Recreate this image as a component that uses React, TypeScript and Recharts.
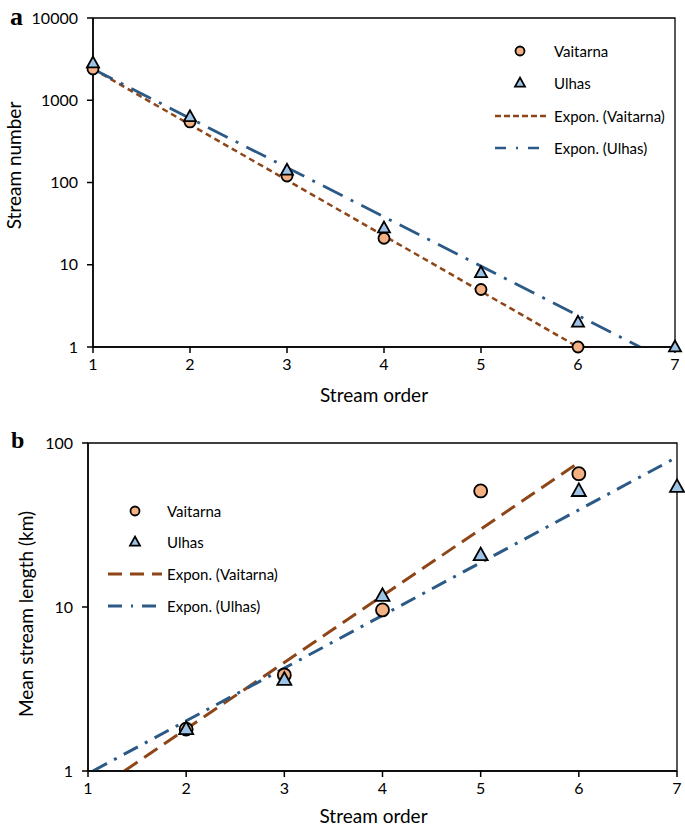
import React from 'react';
import { ComposedChart, Scatter, Line, XAxis, YAxis, ReferenceArea } from 'recharts';

// panel a: stream number per order
const orders = [1, 2, 3, 4, 5, 6, 7];
const vaitarnaNumber = [2400, 545, 120, 21, 5, 1];
const ulhasNumber = [2840, 630, 141, 28, 8, 2, 1];
const vaitarnaNumberTrendX = [1, 6];
const vaitarnaNumberTrendY = [2400, 1];
const ulhasNumberTrendX = [1, 6.64];
const ulhasNumberTrendY = [2400, 1];
const numberTicks = [1, 10, 100, 1000, 10000];

// panel b: mean stream length (km)
const vaitarnaLengthOrders = [2, 3, 4, 5, 6];
const vaitarnaLength = [1.8, 3.85, 9.6, 51, 65];
const ulhasLengthOrders = [2, 3, 4, 5, 6, 7];
const ulhasLength = [1.8, 3.6, 11.7, 20.7, 51, 54];
const vaitarnaLengthTrendX = [1.37, 6];
const vaitarnaLengthTrendY = [1, 76];
const ulhasLengthTrendX = [1.05, 7];
const ulhasLengthTrendY = [1, 82];
const lengthTicks = [1, 10, 100];

const seriesNames = ['Vaitarna', 'Ulhas', 'Expon. (Vaitarna)', 'Expon. (Ulhas)'];

const BROWN = '#8E4517';
const BLUE = '#2B5A86';
const PEACH = '#F4B183';
const LIGHTBLUE = '#9DC3E6';
const FONT = 'Lato, "Open Sans", sans-serif';

const toPoints = (xs: number[], ys: number[]) => xs.map((x, i) => ({ x, y: ys[i] }));

const circleShape = (r: number) => (props: any) => (
    <circle cx={props.cx} cy={props.cy} r={r} fill={PEACH} stroke="#000" strokeWidth={1.8} />
);

const triangleShape = (w: number) => (props: any) => {
    const { cx, cy } = props;
    const h = w * 0.9;
    return (
        <polygon
            points={`${cx},${cy - h * 0.6} ${cx - w / 2},${cy + h * 0.4} ${cx + w / 2},${cy + h * 0.4}`}
            fill={LIGHTBLUE}
            stroke="#000"
            strokeWidth={1.8}
        />
    );
};

const yTitle = (text: string, dxCenter: number, dyShift: number) => (props: any) => {
    const vb = props.viewBox;
    const cx = vb.x + dxCenter;
    const cy = vb.y + vb.height / 2 + dyShift;
    return (
        <text x={cx} y={cy} transform={`rotate(-90 ${cx} ${cy})`} textAnchor="middle" dominantBaseline="central"
            fontSize={19} fontFamily={FONT} fill="#000">
            {text}
        </text>
    );
};

const xTitle = (text: string, baselineFromTop: number, dxShift: number) => (props: any) => {
    const vb = props.viewBox;
    return (
        <text x={vb.x + vb.width / 2 + dxShift} y={vb.y + baselineFromTop} textAnchor="middle"
            fontSize={19} fontFamily={FONT} fill="#000">
            {text}
        </text>
    );
};

const tickStyle = { fill: '#000', fontSize: 16, fontFamily: FONT };

interface LegendProps {
    markerX: number;
    lineX1: number;
    lineX2: number;
    textX: number;
    rows: number[];
    r: number;
    tri: number;
    dashV: string;
    dashU: string;
    lw: number;
}

const LegendOverlay = ({ markerX, lineX1, lineX2, textX, rows, r, tri, dashV, dashU, lw }: LegendProps) => {
    const h = tri * 0.9;
    return (
        <g fontFamily={FONT} fontSize={15} fill="#000">
            <circle cx={markerX} cy={rows[0]} r={r} fill={PEACH} stroke="#000" strokeWidth={1.8} />
            <polygon
                points={`${markerX},${rows[1] - h * 0.6} ${markerX - tri / 2},${rows[1] + h * 0.4} ${markerX + tri / 2},${rows[1] + h * 0.4}`}
                fill={LIGHTBLUE} stroke="#000" strokeWidth={1.8} />
            <line x1={lineX1} x2={lineX2} y1={rows[2]} y2={rows[2]} stroke={BROWN} strokeWidth={lw} strokeDasharray={dashV} />
            <line x1={lineX1} x2={lineX2} y1={rows[3]} y2={rows[3]} stroke={BLUE} strokeWidth={lw} strokeDasharray={dashU} />
            {seriesNames.map((name, i) => (
                <text key={name} x={textX} y={rows[i]} dominantBaseline="central">{name}</text>
            ))}
        </g>
    );
};

const App: React.FC = () => {
    const numV = toPoints(orders.slice(0, vaitarnaNumber.length), vaitarnaNumber);
    const numU = toPoints(orders.slice(0, ulhasNumber.length), ulhasNumber);
    const numTrendV = toPoints(vaitarnaNumberTrendX, vaitarnaNumberTrendY);
    const numTrendU = toPoints(ulhasNumberTrendX, ulhasNumberTrendY);

    const lenV = toPoints(vaitarnaLengthOrders, vaitarnaLength);
    const lenU = toPoints(ulhasLengthOrders, ulhasLength);
    const lenTrendV = toPoints(vaitarnaLengthTrendX, vaitarnaLengthTrendY);
    const lenTrendU = toPoints(ulhasLengthTrendX, ulhasLengthTrendY);

    return (
        <div style={{ position: 'absolute', left: 0, top: 0, width: 685, height: 832, background: '#fff', overflow: 'hidden' }}>
            <div style={{ position: 'absolute', left: 0, top: 0 }}>
                <ComposedChart width={685} height={420} margin={{ top: 18, right: 10, bottom: 0, left: 0 }}>
                    <XAxis dataKey="x" type="number" domain={[1, 7]} ticks={orders} height={73}
                        stroke="#000" strokeWidth={1.5} tickSize={6} tickMargin={6} tick={tickStyle}
                        label={{ content: xTitle('Stream order', 55, -10) }} />
                    <YAxis dataKey="y" type="number" scale="log" domain={[1, 10000]} ticks={numberTicks}
                        width={93} stroke="#000" strokeWidth={1.5} tickSize={6} tickMargin={9} tick={tickStyle}
                        label={{ content: yTitle('Stream number', 13, -17) }} />
                    <ReferenceArea x1={1} x2={7} y1={1} y2={10000} fill="none" stroke="#000" strokeWidth={1.3} />
                    <Scatter data={numV} shape={circleShape(5.5)} isAnimationActive={false} />
                    <Scatter data={numU} shape={triangleShape(12)} isAnimationActive={false} />
                    <Line data={numTrendV} dataKey="y" type="linear" stroke={BROWN} strokeWidth={2.5}
                        strokeDasharray="6 4" dot={false} activeDot={false} isAnimationActive={false} />
                    <Line data={numTrendU} dataKey="y" type="linear" stroke={BLUE} strokeWidth={2.8}
                        strokeDasharray="22 9 3 9" dot={false} activeDot={false} isAnimationActive={false} />
                </ComposedChart>
            </div>
            <div style={{ position: 'absolute', left: 0, top: 425 }}>
                <ComposedChart width={685} height={407} margin={{ top: 18, right: 8, bottom: 0, left: 0 }}>
                    <XAxis dataKey="x" type="number" domain={[1, 7]} ticks={orders} height={61}
                        stroke="#000" strokeWidth={1.5} tickSize={6} tickMargin={6} tick={tickStyle}
                        label={{ content: xTitle('Stream order', 52, -9) }} />
                    <YAxis dataKey="y" type="number" scale="log" domain={[1, 100]} ticks={lengthTicks}
                        width={88} stroke="#000" strokeWidth={1.5} tickSize={6} tickMargin={9} tick={tickStyle}
                        label={{ content: yTitle('Mean stream length (km)', 25, 7) }} />
                    <ReferenceArea x1={1} x2={7} y1={1} y2={100} fill="none" stroke="#000" strokeWidth={1.3} />
                    <Scatter data={lenV} shape={circleShape(6.5)} isAnimationActive={false} />
                    <Scatter data={lenU} shape={triangleShape(14)} isAnimationActive={false} />
                    <Line data={lenTrendV} dataKey="y" type="linear" stroke={BROWN} strokeWidth={3}
                        strokeDasharray="16 8" dot={false} activeDot={false} isAnimationActive={false} />
                    <Line data={lenTrendU} dataKey="y" type="linear" stroke={BLUE} strokeWidth={3}
                        strokeDasharray="16 8 3 8" dot={false} activeDot={false} isAnimationActive={false} />
                </ComposedChart>
            </div>
            <svg width={685} height={832} style={{ position: 'absolute', left: 0, top: 0, pointerEvents: 'none' }}>
                <text x={10} y={25} fontFamily='"Liberation Serif", serif' fontWeight="bold" fontSize={26}>a</text>
                <text x={11} y={448} fontFamily='"Liberation Serif", serif' fontWeight="bold" fontSize={24}>b</text>
                <LegendOverlay markerX={520} lineX1={495} lineX2={548} textX={554} rows={[51, 83, 116, 148]}
                    r={4.5} tri={10} dashV="6 3" dashU="11 10 2 10" lw={2.5} />
                <LegendOverlay markerX={135} lineX1={108} lineX2={162} textX={167} rows={[511, 542, 574, 606]}
                    r={4.5} tri={10} dashV="14 8" dashU="14 9 2 9" lw={3} />
            </svg>
        </div>
    );
};

export default App;
